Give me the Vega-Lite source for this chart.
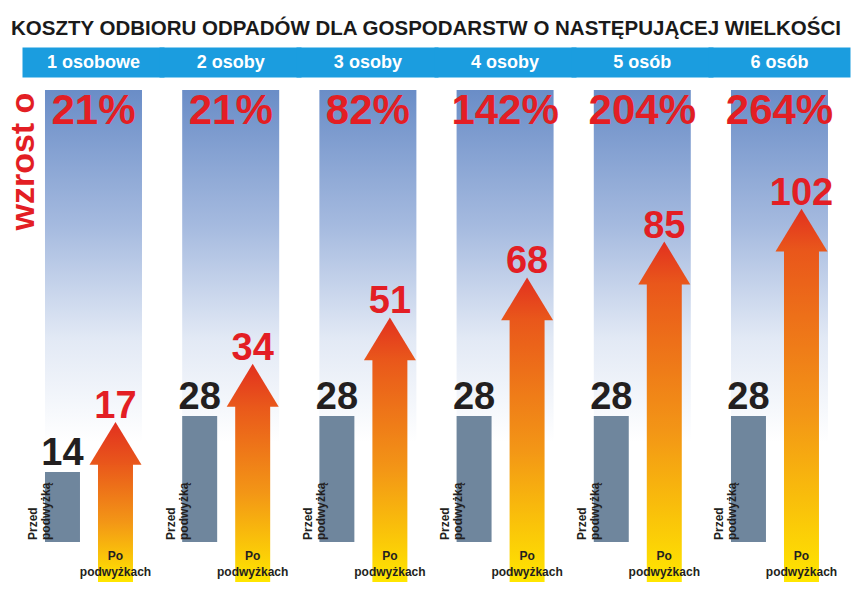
{
  "$schema": "https://vega.github.io/schema/vega-lite/v6.json",
  "width": 852,
  "height": 452,
  "autosize": {"type": "none"},
  "padding": {"left": 0, "right": 0, "top": 90, "bottom": 60},
  "background": "white",
  "config": {
    "font": "Liberation Sans Narrow, Liberation Sans, Arial, sans-serif",
    "view": {"stroke": null}
  },
  "title": {
    "text": "KOSZTY ODBIORU ODPADÓW DLA GOSPODARSTW O NASTĘPUJĄCEJ WIELKOŚCI",
    "fontSize": 20.5,
    "fontWeight": "bold",
    "color": "#1a1a1a",
    "anchor": "middle",
    "frame": "group",
    "offset": -63
  },
  "datasets": {
    "koszty": [
      {"grupa": "1 osobowe", "okres": "Przed podwyżką", "koszt": 14},
      {"grupa": "1 osobowe", "okres": "Po podwyżkach", "koszt": 17},
      {"grupa": "2 osoby", "okres": "Przed podwyżką", "koszt": 28},
      {"grupa": "2 osoby", "okres": "Po podwyżkach", "koszt": 34},
      {"grupa": "3 osoby", "okres": "Przed podwyżką", "koszt": 28},
      {"grupa": "3 osoby", "okres": "Po podwyżkach", "koszt": 51},
      {"grupa": "4 osoby", "okres": "Przed podwyżką", "koszt": 28},
      {"grupa": "4 osoby", "okres": "Po podwyżkach", "koszt": 68},
      {"grupa": "5 osób", "okres": "Przed podwyżką", "koszt": 28},
      {"grupa": "5 osób", "okres": "Po podwyżkach", "koszt": 85},
      {"grupa": "6 osób", "okres": "Przed podwyżką", "koszt": 28},
      {"grupa": "6 osób", "okres": "Po podwyżkach", "koszt": 102}
    ],
    "wzrost": [
      {"grupa": "1 osobowe", "wzrost": 0.21},
      {"grupa": "2 osoby", "wzrost": 0.21},
      {"grupa": "3 osoby", "wzrost": 0.82},
      {"grupa": "4 osoby", "wzrost": 1.42},
      {"grupa": "5 osób", "wzrost": 2.04},
      {"grupa": "6 osób", "wzrost": 2.64}
    ]
  },
  "encoding": {
    "x": {
      "field": "grupa",
      "type": "nominal",
      "scale": {
        "domain": ["1 osobowe", "2 osoby", "3 osoby", "4 osoby", "5 osób", "6 osób"],
        "paddingInner": 0.293,
        "paddingOuter": 0.2515,
        "align": 0.652
      },
      "axis": {
        "orient": "top",
        "title": null,
        "domain": false,
        "offset": 13,
        "ticks": true,
        "tickSize": 30,
        "tickWidth": 142,
        "tickColor": "#1b9ddf",
        "tickCap": "butt",
        "labelPadding": -15,
        "labelBaseline": "middle",
        "labelColor": "white",
        "labelFontSize": 18,
        "labelFontWeight": "bold",
        "labelAngle": 0,
        "grid": false,
        "labelOverlap": false,
        "labelBound": false,
        "labelFlush": false
      }
    }
  },
  "layer": [
    {
      "data": {"name": "wzrost"},
      "mark": {
        "type": "rect",
        "fill": {
          "gradient": "linear",
          "x1": 0, "y1": 0, "x2": 0, "y2": 1,
          "stops": [
            {"offset": 0, "color": "#6a8dc7"},
            {"offset": 0.3, "color": "#a5badf"},
            {"offset": 0.55, "color": "#e2e9f5"},
            {"offset": 0.78, "color": "#ffffff"},
            {"offset": 1, "color": "#ffffff"}
          ]
        }
      },
      "encoding": {}
    },
    {
      "data": {"name": "wzrost"},
      "mark": {"type": "text", "baseline": "top", "dy": 1, "fontSize": 42, "fontWeight": "bold", "color": "#e31e24"},
      "encoding": {
        "y": {
          "datum": 174,
          "type": "quantitative",
          "scale": {"type": "pow", "exponent": 0.57, "domain": [0, 174], "nice": false},
          "axis": {
            "title": "wzrost o",
            "labels": false,
            "ticks": false,
            "domain": false,
            "grid": false,
            "titleAngle": 270,
            "titleAlign": "left",
            "titleBaseline": "alphabetic",
            "titleX": 33,
            "titleY": 140,
            "titleColor": "#e31e24",
            "titleFontSize": 34,
            "titleFontWeight": "bold"
          }
        },
        "text": {"field": "wzrost", "type": "quantitative", "format": ".0%"}
      }
    },
    {
      "data": {"name": "koszty"},
      "transform": [{"filter": "datum.okres === 'Przed podwyżką'"}],
      "mark": {"type": "bar", "color": "#6f869d"},
      "encoding": {
        "xOffset": {"field": "okres", "type": "nominal", "scale": {"domain": ["Przed podwyżką", "Po podwyżkach"], "paddingInner": 0.34, "paddingOuter": 0.085, "align": 0}},
        "y": {"field": "koszt", "type": "quantitative", "scale": {"type": "pow", "exponent": 0.85, "domain": [0, 125.8], "nice": false}, "axis": null}
      }
    },
    {
      "data": {"name": "koszty"},
      "transform": [{"filter": "datum.okres === 'Przed podwyżką'"}],
      "mark": {"type": "text", "baseline": "alphabetic", "dy": -7, "fontSize": 38, "fontWeight": "bold", "color": "#231f20"},
      "encoding": {
        "xOffset": {"field": "okres", "type": "nominal", "scale": {"domain": ["Przed podwyżką", "Po podwyżkach"], "paddingInner": 0.34, "paddingOuter": 0.085, "align": 0}},
        "y": {"field": "koszt", "type": "quantitative", "scale": {"type": "pow", "exponent": 0.85, "domain": [0, 125.8], "nice": false}, "axis": null},
        "text": {"field": "koszt", "type": "quantitative"}
      }
    },
    {
      "data": {"name": "koszty"},
      "transform": [{"filter": "datum.okres === 'Przed podwyżką'"}],
      "mark": {"type": "text", "angle": 270, "align": "left", "baseline": "bottom", "dy": -22, "dx": 2, "fontSize": 12, "fontWeight": "bold", "color": "#231f20", "lineBreak": "\n", "lineHeight": 13},
      "encoding": {
        "xOffset": {"field": "okres", "type": "nominal", "scale": {"domain": ["Przed podwyżką", "Po podwyżkach"], "paddingInner": 0.34, "paddingOuter": 0.085, "align": 0}},
        "y": {"datum": 0, "type": "quantitative", "scale": {"type": "pow", "exponent": 0.85, "domain": [0, 125.8], "nice": false}, "axis": null},
        "text": {"value": "Przed\npodwyżką"}
      }
    },
    {
      "data": {"name": "koszty"},
      "transform": [{"filter": "datum.okres === 'Po podwyżkach'"}],
      "mark": {
        "type": "bar",
        "yOffset": 40,
        "fill": {
          "gradient": "linear",
          "x1": 0, "y1": 0, "x2": 0, "y2": 1,
          "stops": [
            {"offset": 0, "color": "#e9561b"},
            {"offset": 0.5, "color": "#f39616"},
            {"offset": 1, "color": "#ffe600"}
          ]
        }
      },
      "encoding": {
        "xOffset": {"field": "okres", "type": "nominal", "scale": {"domain": ["Przed podwyżką", "Po podwyżkach"], "paddingInner": 0.34, "paddingOuter": 0.085, "align": 0}},
        "y": {"field": "koszt", "type": "quantitative", "scale": {"type": "pow", "exponent": 0.57, "domain": [0, 174], "nice": false}, "axis": null}
      }
    },
    {
      "data": {"name": "koszty"},
      "transform": [{"filter": "datum.okres === 'Po podwyżkach'"}],
      "mark": {
        "type": "point",
        "shape": "M0,0L1,1.65L-1,1.65Z",
        "size": 2704,
        "filled": true,
        "opacity": 1,
        "strokeWidth": 0,
        "fill": {
          "gradient": "linear",
          "x1": 0, "y1": 0, "x2": 0, "y2": 1,
          "stops": [
            {"offset": 0, "color": "#e2301f"},
            {"offset": 1, "color": "#e9581b"}
          ]
        }
      },
      "encoding": {
        "xOffset": {"field": "okres", "type": "nominal", "scale": {"domain": ["Przed podwyżką", "Po podwyżkach"], "paddingInner": 0.34, "paddingOuter": 0.085, "align": 0}},
        "y": {"field": "koszt", "type": "quantitative", "scale": {"type": "pow", "exponent": 0.57, "domain": [0, 174], "nice": false}, "axis": null}
      }
    },
    {
      "data": {"name": "koszty"},
      "transform": [{"filter": "datum.okres === 'Po podwyżkach'"}],
      "mark": {"type": "text", "baseline": "alphabetic", "dy": -4, "fontSize": 38, "fontWeight": "bold", "color": "#e31e24"},
      "encoding": {
        "xOffset": {"field": "okres", "type": "nominal", "scale": {"domain": ["Przed podwyżką", "Po podwyżkach"], "paddingInner": 0.34, "paddingOuter": 0.085, "align": 0}},
        "y": {"field": "koszt", "type": "quantitative", "scale": {"type": "pow", "exponent": 0.57, "domain": [0, 174], "nice": false}, "axis": null},
        "text": {"field": "koszt", "type": "quantitative"}
      }
    },
    {
      "data": {"name": "koszty"},
      "transform": [{"filter": "datum.okres === 'Po podwyżkach'"}],
      "mark": {"type": "text", "baseline": "top", "dy": 9, "align": "center", "fontSize": 12, "fontWeight": "bold", "color": "#231f20", "lineBreak": "\n", "lineHeight": 16},
      "encoding": {
        "xOffset": {"field": "okres", "type": "nominal", "scale": {"domain": ["Przed podwyżką", "Po podwyżkach"], "paddingInner": 0.34, "paddingOuter": 0.085, "align": 0}},
        "y": {"datum": 0, "type": "quantitative", "scale": {"type": "pow", "exponent": 0.57, "domain": [0, 174], "nice": false}, "axis": null},
        "text": {"value": "Po\npodwyżkach"}
      }
    }
  ],
  "resolve": {"scale": {"y": "independent"}}
}
